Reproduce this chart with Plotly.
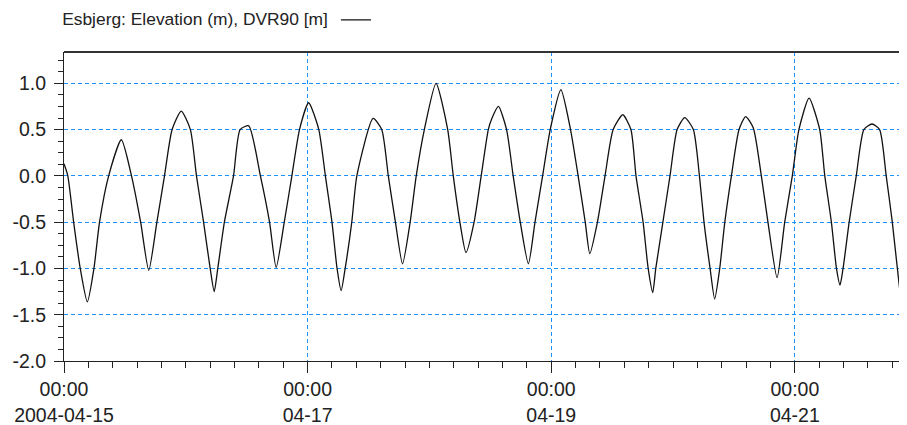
import pandas as pd
import plotly.graph_objects as go

# ---- data (hours since 2004-04-15 00:00, elevation m) ----
start_time = "2004-04-15 00:00"
hours = [0.0, 0.75, 1.9, 3.2, 4.6, 5.9, 7.0, 8.8, 11.3, 13.3, 15.1, 16.7, 18.3, 19.8,
         21.3, 23.1, 24.9, 26.1, 27.5, 28.8, 29.6, 30.3, 31.6, 33.4, 34.7, 36.4, 38.7,
         40.5, 41.8, 43.4, 44.9, 46.4, 48.2, 50.2, 51.5, 52.8, 53.8, 54.6, 55.4, 56.7,
         57.7, 60.9, 62.6, 63.9, 65.3, 66.7, 68.2, 69.4, 71.0, 73.3, 75.6, 76.7, 78.0,
         79.2, 80.8, 82.2, 83.6, 84.3, 85.6, 87.2, 88.5, 89.9, 91.5, 92.8, 94.3, 95.8,
         97.9, 99.8, 101.3, 102.7, 103.6, 105.1, 106.6, 108.2, 110.1, 111.7, 112.7,
         114.1, 115.1, 116.0, 116.6, 118.0, 119.4, 120.8, 122.3, 124.0, 125.2, 126.1,
         127.3, 128.2, 129.2, 130.2, 131.5, 133.0, 134.3, 135.8, 137.4, 138.7,
         140.5, 142.0, 143.5, 144.8, 146.8, 148.9, 149.9, 151.2, 152.2, 152.9,
         153.5, 154.7, 156.1, 157.6, 159.2, 160.7, 162.0, 163.2, 164.2, 165.2, 166.0]
elevation = [0.13, 0.0, -0.5, -1.0, -1.36, -1.0, -0.5, 0.0, 0.39, 0.0, -0.5, -1.02, -0.5, 0.0,
             0.5, 0.70, 0.5, 0.0, -0.5, -1.0, -1.25, -1.0, -0.5, 0.0, 0.5, 0.54, 0.0,
             -0.5, -0.99, -0.5, 0.0, 0.5, 0.79, 0.5, 0.0, -0.5, -1.0, -1.24, -1.0, -0.5,
             0.0, 0.62, 0.5, 0.0, -0.5, -0.95, -0.5, 0.0, 0.5, 1.0, 0.5, 0.0, -0.5,
             -0.83, -0.5, 0.0, 0.5, 0.62, 0.75, 0.5, 0.0, -0.5, -0.95, -0.5, 0.0, 0.5,
             0.93, 0.5, 0.0, -0.5, -0.84, -0.5, 0.0, 0.5, 0.66, 0.5, 0.0,
             -0.5, -1.0, -1.26, -1.0, -0.5, 0.0, 0.5, 0.63, 0.5, 0.0, -0.5,
             -1.0, -1.33, -1.0, -0.5, 0.0, 0.5, 0.64, 0.52, 0.0, -0.5,
             -1.10, -0.5, 0.0, 0.5, 0.84, 0.5, 0.0, -0.5, -1.0, -1.18,
             -1.0, -0.5, 0.0, 0.5, 0.56, 0.5, 0.0, -0.5, -1.0, -1.42, -1.2]

series_name = "Esbjerg: Elevation (m), DVR90 [m]"
x_tick_dates = ["2004-04-15", "2004-04-17", "2004-04-19", "2004-04-21"]
x_tick_labels = ["00:00<br>2004-04-15", "00:00<br>04-17", "00:00<br>04-19", "00:00<br>04-21"]
y_tick_values = [-2.0, -1.5, -1.0, -0.5, 0.0, 0.5, 1.0]
y_tick_labels = ["-2.0", "-1.5", "-1.0", "-0.5", "0.0", "0.5", "1.0"]
x_minor_step_hours = 4.8
y_minor_step = 0.125
x_range_hours = 165.9
y_range = [-2.0, 1.338]

t0 = pd.Timestamp(start_time)
times = t0 + pd.to_timedelta(hours, unit="h")
x_end = t0 + pd.to_timedelta(x_range_hours, unit="h")

grid_blue = "#1E90FF"
font_family = "Liberation Sans, Arial, sans-serif"
tick_font = dict(family=font_family, size=19.5, color="#222")

fig = go.Figure()
fig.add_trace(go.Scatter(
    x=times, y=elevation, mode="lines", name=" ",
    line=dict(color="#111", width=1.3, shape="spline", smoothing=0.6),
    showlegend=True,
))

# The page body adds an 8px offset, so the figure is 8px smaller and margins shifted.
fig.update_layout(
    width=899, height=417,
    margin=dict(l=56, r=1, t=44, b=64, autoexpand=False),
    paper_bgcolor="white", plot_bgcolor="white",
    font=tick_font,
    showlegend=True,
    legend=dict(
        orientation="h", xref="container", yref="container",
        x=0.058, y=0.971, xanchor="left", yanchor="middle",
        title=dict(text=series_name, side="left",
                   font=dict(family=font_family, size=17.4, color="#222")),
        font=dict(family=font_family, size=17.4, color="#222"),
        bgcolor="rgba(0,0,0,0)",
    ),
    xaxis=dict(
        type="date", range=[t0, x_end],
        tickmode="array", tickvals=x_tick_dates, ticktext=x_tick_labels,
        ticks="outside", ticklen=11, tickcolor="#222", tickwidth=1,
        showline=True, linecolor="#222", linewidth=1,
        showgrid=True, gridcolor=grid_blue, gridwidth=1, griddash="4px,3px",
        zeroline=False,
        minor=dict(ticks="outside", ticklen=6, tickcolor="#222", tickwidth=1,
                   dtick=x_minor_step_hours * 3600 * 1000, tick0=x_tick_dates[0],
                   showgrid=False),
        tickfont=tick_font,
    ),
    yaxis=dict(
        range=y_range,
        tickmode="array", tickvals=y_tick_values, ticktext=y_tick_labels,
        ticks="outside", ticklen=9, tickcolor="#222", tickwidth=1,
        ticklabelstandoff=4,
        showline=True, linecolor="#222", linewidth=1,
        showgrid=True, gridcolor=grid_blue, gridwidth=1, griddash="4px,3px",
        zeroline=False,
        minor=dict(ticks="outside", ticklen=5, tickcolor="#222", tickwidth=1,
                   dtick=y_minor_step, tick0=0, showgrid=False),
        tickfont=tick_font,
    ),
    shapes=[dict(type="line", xref="paper", yref="paper", x0=0, x1=1, y0=1, y1=1,
                 line=dict(color="#333", width=2))],
)

fig.write_html("out.html")
